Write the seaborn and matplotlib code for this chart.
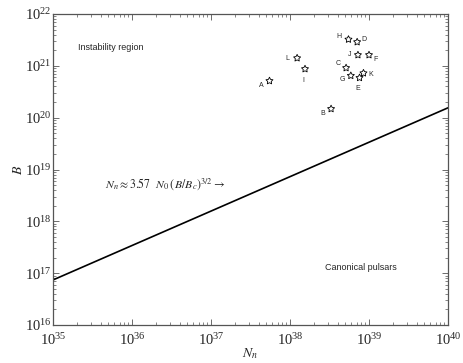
import numpy as np
import pandas as pd
import seaborn as sns
from matplotlib import pyplot as plt
from matplotlib.ticker import LogLocator, NullFormatter

# pulsar points (log10 values)
names = ["A", "B", "C", "D", "E", "F", "G", "H", "I", "J", "K", "L"]
log_nn = [37.74, 38.52, 38.71, 38.85, 38.88, 39.00, 38.77, 38.74, 38.19, 38.86, 38.93, 38.09]
log_b = [20.71, 20.17, 20.96, 21.46, 20.77, 21.21, 20.81, 21.51, 20.94, 21.21, 20.86, 21.15]
# label offsets in points
label_dx = [-6, -6, -6, 5, -1, 5, -6, -7, -1, -6, 5, -7]
label_dy = [-3, -3, 3, 2, -8, -3, -3, 2, -8, 0, -1, 0]

# boundary line N_n = 3.57 N_0 (B/B_c)^{3/2}
line_nn = [1e35, 1e40]
line_b = [7.4e16, 1.55e20]

sns.set_style("ticks")
plt.rcParams['font.family'] = 'serif'
plt.rcParams['font.serif'] = ['Liberation Serif', 'DejaVu Serif']
plt.rcParams['mathtext.fontset'] = 'stix'
plt.rcParams['xtick.direction'] = 'in'
plt.rcParams['ytick.direction'] = 'in'

pts = pd.DataFrame({"Nn": 10.0 ** np.array(log_nn), "B": 10.0 ** np.array(log_b), "name": names})
line = pd.DataFrame({"Nn": line_nn, "B": line_b})

fig = plt.figure(figsize=(4.63, 3.63), dpi=100)
ax = fig.add_axes([0.1145, 0.1047, 0.8531, 0.8567])

sns.lineplot(data=line, x="Nn", y="B", color="black", linewidth=1.2, ax=ax)
sns.scatterplot(data=pts, x="Nn", y="B", marker=(5, 1, 0), s=28,
                facecolor="none", edgecolor="black", linewidth=0.6, ax=ax)
for n, x, y, dx, dy in zip(names, pts["Nn"], pts["B"], label_dx, label_dy):
    ax.annotate(n, (x, y), xytext=(dx, dy), textcoords="offset points",
                ha="center", va="center", fontsize=5, family="Liberation Sans")

ax.set_xscale("log")
ax.set_yscale("log")
ax.set_xlim(1e35, 1e40)
ax.set_ylim(1e16, 1e22)
ax.xaxis.set_major_locator(LogLocator(base=10, numticks=10))
ax.yaxis.set_major_locator(LogLocator(base=10, numticks=10))
ax.xaxis.set_minor_locator(LogLocator(base=10, subs=np.arange(2, 10), numticks=10))
ax.yaxis.set_minor_locator(LogLocator(base=10, subs=np.arange(2, 10), numticks=10))
ax.xaxis.set_minor_formatter(NullFormatter())
ax.yaxis.set_minor_formatter(NullFormatter())
ax.tick_params(which="both", top=True, right=True, labelsize=10.5, color="#555555")
ax.tick_params(axis="x", pad=5)
ax.tick_params(axis="y", pad=1)
ax.tick_params(which="major", length=4, width=0.6)
ax.tick_params(which="minor", length=2, width=0.5)
for s in ax.spines.values():
    s.set_color("#555555")
    s.set_linewidth(0.9)

ax.set_xlabel("$N_n$", fontsize=10, labelpad=-1)
ax.set_ylabel("$B$", fontsize=10, labelpad=0, rotation=90)

ax.text(10 ** 35.32, 10 ** 21.36, "Instability region", fontsize=6.5,
        family="Liberation Sans", va="center")
ax.text(10 ** 38.44, 10 ** 17.1, "Canonical pulsars", fontsize=6.5,
        family="Liberation Sans", va="center")
ax.text(10 ** 35.66, 10 ** 18.72,
        r"$N_n \approx 3.57\ \ N_0\,(\,B/B_c)^{3/2} \rightarrow$", fontsize=8.5,
        va="center")

plt.savefig("out.png", dpi=100)
